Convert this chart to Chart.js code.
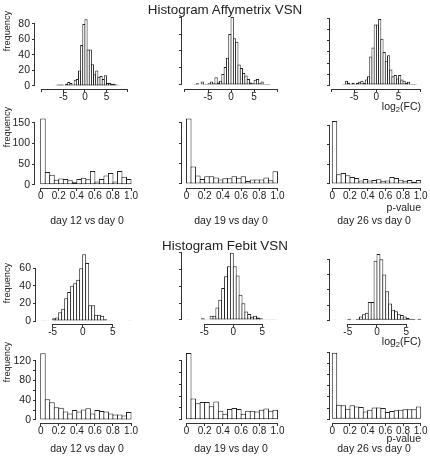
<!DOCTYPE html>
<html>
<head>
<meta charset="utf-8">
<script src="https://cdn.jsdelivr.net/npm/chart.js@4.4.1/dist/chart.umd.min.js"></script>
<style>
  html, body { margin: 0; padding: 0; background: #fff; }
  #page { position: relative; width: 430px; height: 465px; overflow: hidden;
          font-family: "Liberation Sans", Arial, sans-serif; color: #222; }
  #page canvas { position: absolute; }
  .lbl { position: absolute; white-space: nowrap; font-size: 10.5px; line-height: 1; }
  .center { transform: translate(-50%, -50%); }
  .right { transform: translate(-100%, -50%); }
  .title { font-size: 13.4px; }
  .ylab { font-size: 9.2px; transform: translate(-50%, -50%) rotate(-90deg); }
  sub { font-size: 7.5px; vertical-align: -2px; line-height: 0; }
</style>
</head>
<body>
<div id="page"></div>
<script>
// histogram bin centres, log2(FC) (bin width 0.5)
const fcBins = [-8.75, -8.25, -7.75, -7.25, -6.75, -6.25, -5.75, -5.25, -4.75, -4.25, -3.75, -3.25,
  -2.75, -2.25, -1.75, -1.25, -0.75, -0.25, 0.25, 0.75, 1.25, 1.75, 2.25, 2.75,
  3.25, 3.75, 4.25, 4.75, 5.25, 5.75, 6.25, 6.75, 7.25, 7.75, 8.25, 8.75];
const fcBinWidth = 0.5;
// histogram bin centres, p-values (bin width 0.05)
const pBins = [0.025, 0.075, 0.125, 0.175, 0.225, 0.275, 0.325, 0.375, 0.425, 0.475,
  0.525, 0.575, 0.625, 0.675, 0.725, 0.775, 0.825, 0.875, 0.925, 0.975];
const pBinWidth = 0.05;

// Affymetrix VSN - log2(FC) counts
const affyFcDay12 = [null, null, null, null, 1, 2, 2, 2, 1, 3, 5, 4, 2, 8, 9, 20, 53, 80, 86, 47, 47, 28, 15, 20, 12, 13, 9, 14, 4, 4, 3, 3, 2, 1, 1, null];
const affyFcDay19 = [null, null, 1, 2, 0, 4, 1, 1, 2, 4, 2, 9, 3, 5, 13, 21, 32, 60, 80, 55, 51, 24, 20, 14, 11, 7, 3, 2, 6, 7, 2, 4, 1, 1, 1, null];
const affyFcDay26 = [null, null, null, 1, 4, 2, 1, 2, 1, 2, 3, 4, 2, 5, 8, 26, 34, 55, 55, 60, 42, 30, 22, 27, 14, 8, 9, 6, 9, 5, 4, 2, 3, 1, 1, 1];
// Affymetrix VSN - p-value counts
const affyPDay12 = [160, 31, 24, 12, 15, 14, 11, 6, 14, 17, 13, 33, 8, 14, 22, 28, 8, 33, 19, 14];
const affyPDay19 = [161, 43, 21, 12, 19, 19, 16, 11, 14, 14, 19, 15, 19, 7, 11, 11, 11, 16, 9, 31];
const affyPDay26 = [160, 25, 28, 22, 18, 15, 9, 13, 9, 10, 12, 8, 9, 18, 15, 11, 8, 10, 6, 10];

// Febit VSN - log2(FC) counts
const febitFcDay12 = [null, null, null, null, 1, 1, 0, 0, 3, 4, 10, 14, 26, 33, 40, 43, 47, 60, 76, 66, 18, 18, 7, 7, 6, 2, 1, 1, 0, 0, 0, 0, 0, 1, null, null];
const febitFcDay19 = [null, null, 1, 0, 0, 0, 0, 2, 1, 1, 5, 5, 15, 24, 38, 52, 64, 80, 64, 53, 30, 20, 10, 7, 4, 5, 3, 2, 1, 1, 1, 1, 1, null, null, null];
const febitFcDay26 = [null, null, null, 1, 0, 0, 0, 1, 2, 1, 1, 2, 5, 8, 10, 24, 24, 78, 87, 80, 60, 38, 22, 14, 12, 8, 7, 5, 3, 2, 2, 1, 2, null, null, null];
// Febit VSN - p-value counts
const febitPDay12 = [135, 42, 36, 26, 25, 17, 13, 20, 17, 21, 24, 13, 20, 18, 17, 13, 11, 11, 9, 16];
const febitPDay19 = [113, 36, 28, 30, 30, 23, 31, 15, 10, 18, 20, 18, 10, 15, 15, 14, 17, 19, 15, 17];
const febitPDay26 = [119, 26, 25, 19, 25, 23, 22, 14, 17, 21, 21, 20, 13, 15, 16, 17, 18, 18, 18, 23];

// tick values and labels
const affyFcTicks = [-10, -5, 0, 5, 10];
const affyFcTickLabels = ['', '-5', '0', '5', ''];
const febitFcTicks = [-5, 0, 5];
const febitFcTickLabels = ['-5', '0', '5'];
const pTicks = [0, 0.2, 0.4, 0.6, 0.8, 1.0];
const pTickLabels = ['0', '0.2', '0.4', '0.6', '0.8', '1.0'];

const affyFcYTicks = [0, 20, 40, 60, 80];
const affyFcYTicks26 = [0, 10, 20, 30, 40, 50, 60];
const affyPYTicks = [0, 50, 100, 150];
const febitFcYTicks12 = [0, 20, 40, 60];
const febitFcYTicks = [0, 20, 40, 60, 80];
const febitPYTicks = [0, 20, 40, 60, 80, 100, 120];
const febitPYTicks19 = [0, 20, 40, 60, 80, 100];
const febitPYLabels = ['0', '', '40', '', '80', '', '120'];

// margins round each plot area inside its canvas
const ML = 34, MT = 8, MR = 12, MB = 22;
const axisColor = '#333';
const barLine = '#222';
const barFill = '#ffffff';

// [left, right, top, bottom] of each plot area on the page, plus axis limits
const panels = [
  { values: affyFcDay12, bins: fcBins, bw: fcBinWidth, box: [35, 131, 14, 89], xr: [-11.6, 10.7], yr: [-3.9, 92.9],
    xt: affyFcTicks, xl: affyFcTickLabels, yt: affyFcYTicks, yl: affyFcYTicks.map(String) },
  { values: affyFcDay19, bins: fcBins, bw: fcBinWidth, box: [182, 278, 14, 89], xr: [-10.65, 10.2], yr: [-4.8, 83.6],
    xt: affyFcTicks, xl: affyFcTickLabels, yt: affyFcYTicks, yl: null },
  { values: affyFcDay26, bins: fcBins, bw: fcBinWidth, box: [330, 423, 14, 89], xr: [-10.45, 10.5], yr: [-3.6, 64.5],
    xt: affyFcTicks, xl: affyFcTickLabels, yt: affyFcYTicks26, yl: null },

  { values: affyPDay12, bins: pBins, bw: pBinWidth, box: [35, 134, 114, 188], xr: [-0.063, 1.033], yr: [-8, 171],
    xt: pTicks, xl: pTickLabels, yt: affyPYTicks, yl: affyPYTicks.map(String) },
  { values: affyPDay19, bins: pBins, bw: pBinWidth, box: [182, 280, 114, 188], xr: [-0.049, 1.027], yr: [-9.9, 172],
    xt: pTicks, xl: pTickLabels, yt: affyPYTicks, yl: null },
  { values: affyPDay26, bins: pBins, bw: pBinWidth, box: [330, 423, 114, 188], xr: [-0.026, 1.026], yr: [-10.2, 178],
    xt: pTicks, xl: pTickLabels, yt: affyPYTicks, yl: null },

  { values: febitFcDay12, bins: fcBins, bw: fcBinWidth, box: [36, 131, 250, 324], xr: [-7.78, 8.05], yr: [-3.4, 80.7],
    xt: febitFcTicks, xl: febitFcTickLabels, yt: febitFcYTicks12, yl: febitFcYTicks12.map(String) },
  { values: febitFcDay19, bins: fcBins, bw: fcBinWidth, box: [182, 279, 250, 324], xr: [-8.84, 7.88], yr: [-4.76, 83.2],
    xt: febitFcTicks, xl: febitFcTickLabels, yt: febitFcYTicks, yl: null },
  { values: febitFcDay26, bins: fcBins, bw: fcBinWidth, box: [330, 423, 250, 324], xr: [-8.05, 7.88], yr: [-4.85, 92.2],
    xt: febitFcTicks, xl: febitFcTickLabels, yt: febitFcYTicks, yl: null },

  { values: febitPDay12, bins: pBins, bw: pBinWidth, box: [36, 134, 350, 423], xr: [-0.052, 1.033], yr: [-6.1, 141.7],
    xt: pTicks, xl: pTickLabels, yt: febitPYTicks, yl: febitPYLabels },
  { values: febitPDay19, bins: pBins, bw: pBinWidth, box: [182, 280, 350, 423], xr: [-0.049, 1.027], yr: [-5.6, 118.3],
    xt: pTicks, xl: pTickLabels, yt: febitPYTicks19, yl: null },
  { values: febitPDay26, bins: pBins, bw: pBinWidth, box: [330, 423, 350, 423], xr: [-0.026, 1.026], yr: [-6.7, 124],
    xt: pTicks, xl: pTickLabels, yt: febitPYTicks, yl: null }
];

// free text on the page: [text/html, x, y, class]
const labels = [
  ['Histogram Affymetrix VSN', 225, 10, 'title center'],
  ['Histogram Febit VSN', 225, 246, 'title center'],
  ['frequency', 8, 31, 'ylab'],
  ['frequency', 8, 127, 'ylab'],
  ['frequency', 8, 283, 'ylab'],
  ['frequency', 8, 362, 'ylab'],
  ['log<sub>2</sub>(FC)', 421, 106, 'right'],
  ['log<sub>2</sub>(FC)', 421, 341, 'right'],
  ['p-value', 421, 207, 'right'],
  ['p-value', 421, 438, 'right'],
  ['day 12 vs day 0', 87, 220, 'center'],
  ['day 19 vs day 0', 231, 220, 'center'],
  ['day 26 vs day 0', 374, 220, 'center'],
  ['day 12 vs day 0', 87, 448, 'center'],
  ['day 19 vs day 0', 231, 448, 'center'],
  ['day 26 vs day 0', 374, 448, 'center']
];

// R-style axis lines: only from the first to the last tick
const rAxisLines = {
  id: 'rAxisLines',
  afterDraw(chart) {
    const ctx = chart.ctx;
    const xs = chart.scales.x;
    const ys = chart.scales.y;
    const xt = xs.ticks;
    const yt = ys.ticks;
    ctx.save();
    ctx.strokeStyle = axisColor;
    ctx.lineWidth = 1;
    ctx.beginPath();
    const yLine = Math.round(xs.top) + 0.5;
    ctx.moveTo(xs.getPixelForValue(xt[0].value), yLine);
    ctx.lineTo(xs.getPixelForValue(xt[xt.length - 1].value), yLine);
    const xLine = Math.round(ys.right) - 0.5;
    ctx.moveTo(xLine, ys.getPixelForValue(yt[0].value));
    ctx.lineTo(xLine, ys.getPixelForValue(yt[yt.length - 1].value));
    ctx.stroke();
    ctx.restore();
  }
};

const page = document.getElementById('page');

function drawPanel(p) {
  const [l, r, t, b] = p.box;
  const w = r - l + ML + MR;
  const h = b - t + MT + MB;
  const canvas = document.createElement('canvas');
  canvas.width = w;
  canvas.height = h;
  canvas.style.left = (l - ML) + 'px';
  canvas.style.top = (t - MT) + 'px';
  page.appendChild(canvas);

  // bars one pixel wider than the bin so neighbouring outlines share a line
  const binPx = p.bw * (r - l) / (p.xr[1] - p.xr[0]);
  const widen = (binPx + 1) / binPx;

  const tickFont = { family: '"Liberation Sans", Arial, sans-serif', size: 10, lineHeight: 1.05 };

  new Chart(canvas, {
    type: 'bar',
    data: {
      datasets: [{
        data: p.bins.map((c, i) => ({ x: c, y: p.values[i] })),
        backgroundColor: barFill,
        borderColor: barLine,
        borderWidth: 1,
        borderSkipped: false,
        barPercentage: widen,
        categoryPercentage: 1,
        grouped: false
      }]
    },
    options: {
      responsive: false,
      animation: false,
      devicePixelRatio: 1,
      layout: { padding: { left: 0, top: MT, right: MR, bottom: 0 } },
      plugins: { legend: { display: false }, tooltip: { enabled: false } },
      scales: {
        x: {
          type: 'linear',
          min: p.xr[0],
          max: p.xr[1],
          offset: false,
          afterBuildTicks: (s) => { s.ticks = p.xt.map(v => ({ value: v })); },
          afterFit: (s) => { s.height = MB; s.paddingLeft = 0; s.paddingRight = 0; },
          border: { display: false },
          grid: { drawOnChartArea: false, drawTicks: true, tickLength: 3, color: axisColor, offset: false },
          ticks: {
            autoSkip: false, maxRotation: 0, padding: 0, color: '#222', font: tickFont,
            callback: (v, i) => p.xl[i]
          }
        },
        y: {
          type: 'linear',
          min: p.yr[0],
          max: p.yr[1],
          afterBuildTicks: (s) => { s.ticks = p.yt.map(v => ({ value: v })); },
          afterFit: (s) => { s.width = ML; s.paddingTop = 0; s.paddingBottom = 0; },
          border: { display: false },
          grid: { drawOnChartArea: false, drawTicks: true, tickLength: 3, color: axisColor },
          ticks: {
            autoSkip: false, padding: 2, color: '#222', font: { ...tickFont, size: 10.5 },
            callback: (v, i) => (p.yl ? p.yl[i] : '')
          }
        }
      }
    },
    plugins: [rAxisLines]
  });
}

panels.forEach(drawPanel);

labels.forEach(([html, x, y, cls]) => {
  const d = document.createElement('div');
  d.className = 'lbl ' + cls;
  d.innerHTML = html;
  d.style.left = x + 'px';
  d.style.top = y + 'px';
  page.appendChild(d);
});
</script>
</body>
</html>
